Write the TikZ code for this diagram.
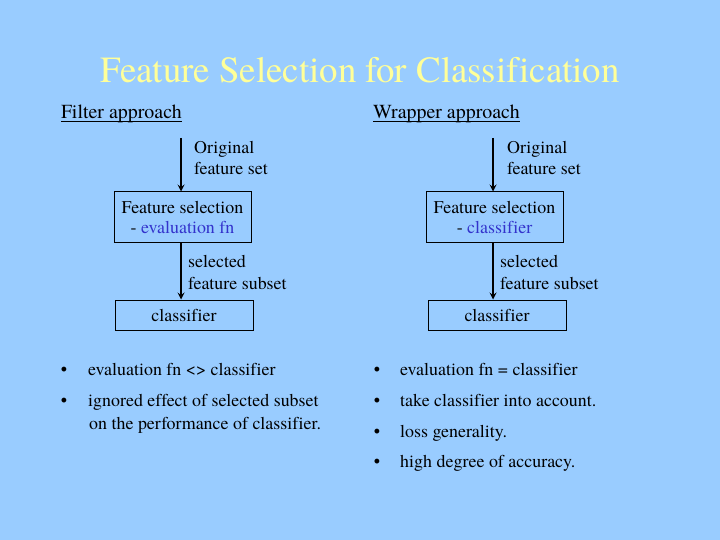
\documentclass[tikz,border=0pt]{standalone}
\usepackage{fontspec}
\setmainfont{TeX Gyre Termes}[Ligatures=NoCommon]

\definecolor{sfondo}{HTML}{99CCFF}
\definecolor{giallo}{HTML}{FFFF99}
\definecolor{blu}{HTML}{3333CC}

\newcommand{\testo}{\fontsize{18}{21}\selectfont}
\newsavebox{\sottobox}
\newcommand{\sottolinea}[1]{\sbox{\sottobox}{#1}\rlap{\rule[-3bp]{\wd\sottobox}{1.2bp}}\usebox{\sottobox}}

\tikzset{
  scatola/.style={draw, line width=1bp, inner sep=0pt, align=center, font=\testo},
  etichetta/.style={anchor=base west, align=left, inner sep=0pt, font=\fontsize{18}{22}\selectfont},
  freccia/.style={->, line width=2bp},
  titoletto/.style={anchor=base west, inner sep=0pt, font=\fontsize{20}{24}\selectfont},
  punto/.style={anchor=base, inner sep=0pt, font=\testo},
  voce/.style={anchor=base west, align=left, inner sep=0pt, font=\fontsize{18}{23}\selectfont}
}

\begin{document}
\begin{tikzpicture}[x=1bp, y=-1bp, >=stealth]

% Sfondo
\fill[sfondo] (0,0) rectangle (720,540);

% Titolo
\node[giallo, anchor=base, inner sep=0pt, font=\fontsize{37}{40}\selectfont] (titolo) at (360,83)
  {Feature Selection for Classification};

% Filtro (sinistra)
\node[titoletto] (filtro) at (61,119) {\sottolinea{Filter approach}};
\coordinate (inL) at (181,138);
\node[scatola, minimum width=137bp, minimum height=51bp] (selL) at (182.5,217.5)
  {Feature selection\\- {\color{blu}evaluation fn}};
\node[scatola, minimum width=138bp, minimum height=30bp] (clsL) at (184,315) {classifier};
\node[etichetta] (origL) at (194,175) {Original\\feature set};
\node[etichetta] (subL) at (188,289) {selected\\feature subset};

\draw[freccia] (inL) -- (selL.north -| inL);
\draw[freccia] (selL.south -| inL) -- (clsL.north -| inL);

% Wrapper (destra)
\node[titoletto] (wrapper) at (373,119) {\sottolinea{Wrapper approach}};
\coordinate (inR) at (493,138);
\node[scatola, minimum width=137bp, minimum height=51bp] (selR) at (494.5,217.5)
  {Feature selection\\- {\color{blu}classifier}};
\node[scatola, minimum width=138bp, minimum height=30bp] (clsR) at (497,315) {classifier};
\node[etichetta] (origR) at (507,175) {Original\\feature set};
\node[etichetta] (subR) at (500,289) {selected\\feature subset};

\draw[freccia] (inR) -- (selR.north -| inR);
\draw[freccia] (selR.south -| inR) -- (clsR.north -| inR);

% Elenchi puntati
\node[punto] (b1L) at (64,375) {\textbullet};
\node[voce] (v1L) at (88,375) {evaluation fn <> classifier};
\node[punto] (b2L) at (64,406) {\textbullet};
\node[voce] (v2L) at (88,429) {ignored effect of selected subset\\\hspace{1bp}on the performance of classifier.};

\node[punto] (b1R) at (377,375) {\textbullet};
\node[voce] (v1R) at (400,375) {evaluation fn = classifier};
\node[punto] (b2R) at (377,406) {\textbullet};
\node[voce] (v2R) at (400,406) {take classifier into account.};
\node[punto] (b3R) at (377,437) {\textbullet};
\node[voce] (v3R) at (400,437) {loss generality.};
\node[punto] (b4R) at (377,467) {\textbullet};
\node[voce] (v4R) at (400,467) {high degree of accuracy.};

\end{tikzpicture}
\end{document}
